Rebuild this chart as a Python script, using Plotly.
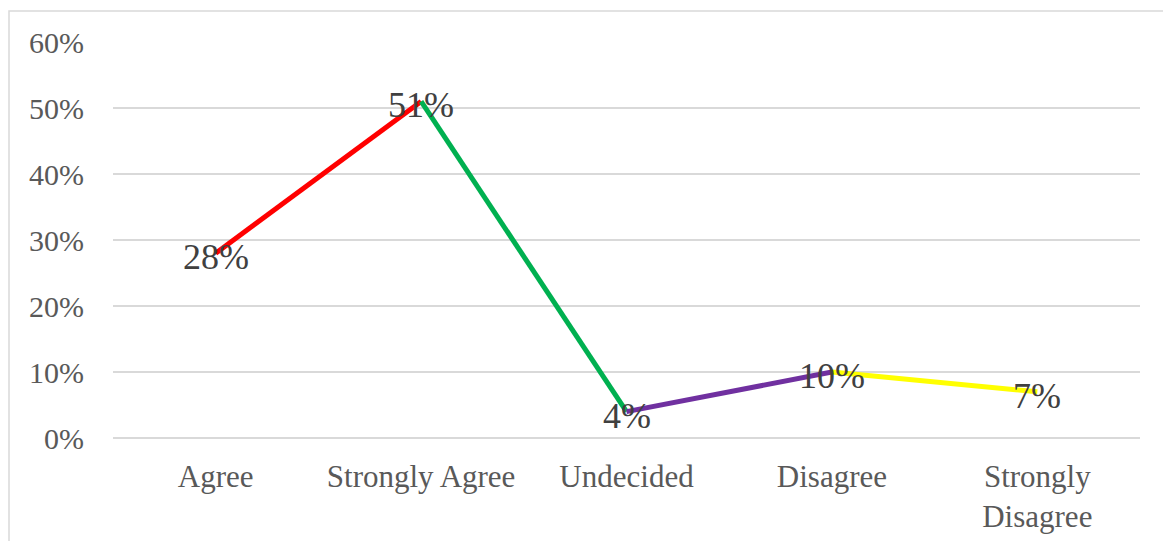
import plotly.graph_objects as go

categories = ["Agree", "Strongly Agree", "Undecided", "Disagree", "Strongly<br>Disagree"]
values = [0.28, 0.51, 0.04, 0.10, 0.07]
labels = ["28%", "51%", "4%", "10%", "7%"]
segment_colors = ["#FF0000", "#00B050", "#7030A0", "#FFFF00"]
y_ticks = [0, 0.1, 0.2, 0.3, 0.4, 0.5, 0.6]
y_ticktext = ["0%", "10%", "20%", "30%", "40%", "50%", "60%"]

FONT = "Liberation Serif, Times New Roman, serif"

fig = go.Figure()
for i, col in enumerate(segment_colors):
    fig.add_trace(go.Scatter(
        x=categories[i:i + 2], y=values[i:i + 2], mode="lines",
        line=dict(color=col, width=5), showlegend=False, hoverinfo="skip"))

for cat, val, lab in zip(categories, values, labels):
    fig.add_annotation(x=cat, y=val, text=lab, showarrow=False,
                       xanchor="center", yanchor="middle", yshift=-4,
                       font=dict(family=FONT, size=36, color="#404040"))

W, H = 1163, 541
L, R, T, B = 113, 23, 42, 103
pw, ph = W - L - R, H - T - B

fig.add_shape(type="rect", xref="paper", yref="paper",
              x0=(9 - L) / pw, x1=(W + 20 - L) / pw,
              y0=(H - B - (H + 20)) / ph, y1=(H - B - 11) / ph,
              line=dict(color="#d9d9d9", width=1.5), fillcolor="rgba(0,0,0,0)",
              layer="below")

fig.update_layout(
    width=W, height=H,
    margin=dict(l=L, r=R, t=T, b=B, autoexpand=False),
    paper_bgcolor="white", plot_bgcolor="white",
    hovermode=False,
    font=dict(family=FONT, size=30, color="#595959"),
    xaxis=dict(type="category", categoryorder="array", categoryarray=categories,
               showgrid=False, showline=False, zeroline=False, ticks="",
               tickfont=dict(family=FONT, size=31, color="#595959"),
               ticklabelstandoff=17, range=[-0.5, 4.5], automargin=False),
    yaxis=dict(range=[0, 0.6], tickvals=y_ticks, ticktext=y_ticktext,
               showgrid=True, gridcolor="#d9d9d9", gridwidth=1.5,
               zeroline=True, zerolinecolor="#d9d9d9", zerolinewidth=1.5,
               showline=False, ticks="", automargin=False,
               tickfont=dict(family=FONT, size=30, color="#595959"),
               ticklabelstandoff=28),
)

fig.write_html("out.html")
